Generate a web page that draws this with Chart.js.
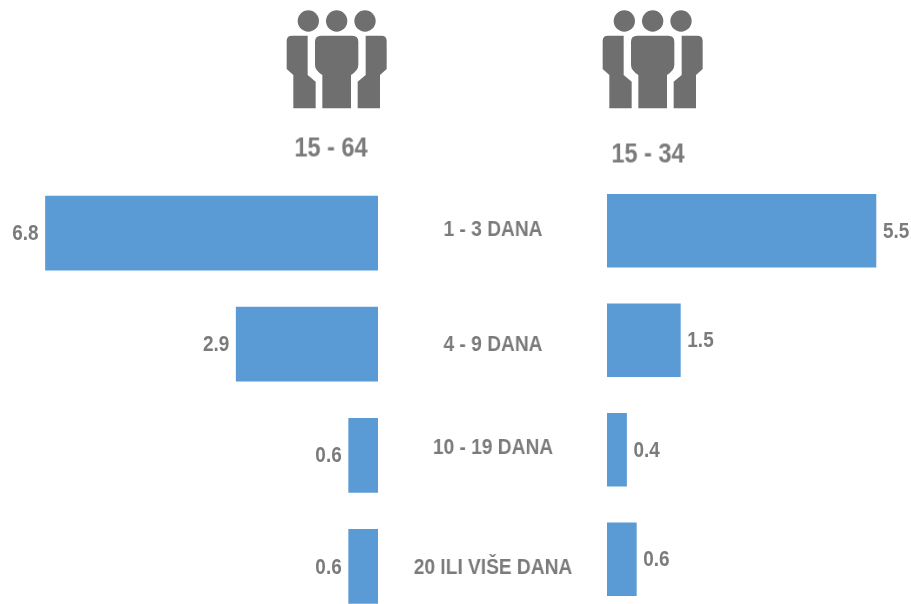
<!DOCTYPE html>
<html>
<head>
<meta charset="utf-8">
<script src="https://cdn.jsdelivr.net/npm/chart.js@4"></script>
<style>
    html, body { margin: 0; background: #fff; }
    #page { position: relative; width: 911px; height: 604px; overflow: hidden; font-family: "Liberation Sans", Arial, sans-serif; color: #7b7b7b; }
    #page canvas { position: absolute; }
    .icon { position: absolute; top: 0; width: 130px; height: 170px; }
    .head { position: absolute; font-size: 27px; font-weight: bold; transform: translate(-50%, -50%) scaleX(0.87); white-space: nowrap; will-change: transform; }
    .cat { position: absolute; left: 493px; font-size: 22px; font-weight: bold; transform: translate(-50%, -50%) scaleX(0.87); white-space: nowrap; will-change: transform; }
</style>
</head>
<body>
<div id="page">
    <svg style="display:none">
        <symbol id="people" viewBox="0 0 390 510">
            <g fill="#6f6f6f">
                <circle cx="115" cy="63" r="32"/>
                <circle cx="200" cy="63" r="32"/>
                <circle cx="285" cy="63" r="32"/>
                <path d="M66 107H113V225L137 245V325H70V225L50 207V123Q50 107 66 107Z"/>
                <path d="M334 107H287V225L263 245V325H330V225L350 207V123Q350 107 334 107Z"/>
                <path d="M153 107H247Q265 107 265 125V195Q265 211 243 225V325H157V225Q135 211 135 195V125Q135 107 153 107Z"/>
            </g>
        </symbol>
    </svg>
    <svg class="icon" style="left:270px"><use href="#people"/></svg>
    <svg class="icon" style="left:586px"><use href="#people"/></svg>
    <div class="head" style="left:331px;top:148px">15 - 64</div>
    <div class="head" style="left:648px;top:154px">15 - 34</div>
    <canvas id="left-chart" width="378" height="445" style="left:0;top:177px"></canvas>
    <canvas id="right-chart" width="304" height="438" style="left:607px;top:176px"></canvas>
</div>
<script>
const categories = ['1 - 3 DANA', '4 - 9 DANA', '10 - 19 DANA', '20 ILI VIŠE DANA'];
const categoryY = [229, 344, 447, 567];
const ages1564 = [6.8, 2.9, 0.6, 0.6];
const ages1534 = [5.5, 1.5, 0.4, 0.6];

const BAR_COLOR = '#5b9bd5';
const PX_PER_UNIT = 48.9;
const LABEL_SQUEEZE = 0.86;

// value labels sit just outside the end of each bar, squeezed like the original type
const valueLabels = {
    id: 'valueLabels',
    afterDatasetsDraw(chart) {
        const ctx = chart.ctx;
        const reversed = chart.scales.x.options.reverse;
        ctx.save();
        ctx.font = 'bold 22px "Liberation Sans", Arial, sans-serif';
        ctx.fillStyle = '#7b7b7b';
        ctx.textBaseline = 'middle';
        ctx.textAlign = reversed ? 'right' : 'left';
        chart.getDatasetMeta(0).data.forEach((bar, i) => {
            ctx.save();
            ctx.translate(bar.x + (reversed ? -7 : 7), bar.y + 1);
            ctx.scale(LABEL_SQUEEZE, 1);
            ctx.fillText(chart.data.datasets[0].data[i].toFixed(1), 0, 0);
            ctx.restore();
        });
        ctx.restore();
    }
};

function drawSide(id, values, width, thickness, reversed, padTop) {
    return new Chart(document.getElementById(id), {
        type: 'bar',
        data: {
            labels: categories,
            datasets: [{ data: values, backgroundColor: BAR_COLOR, barThickness: thickness }]
        },
        options: {
            indexAxis: 'y',
            responsive: false,
            animation: false,
            layout: { padding: { top: padTop } },
            plugins: { legend: { display: false }, tooltip: { enabled: false } },
            scales: {
                x: { display: false, min: 0, max: width / PX_PER_UNIT, reverse: reversed },
                y: { display: false }
            }
        },
        plugins: [valueLabels]
    });
}

drawSide('left-chart', ages1564, 378, 74, true, 0.5);
drawSide('right-chart', ages1534, 304, 73, false, 0);

const page = document.getElementById('page');
categories.forEach((name, i) => {
    const label = document.createElement('div');
    label.className = 'cat';
    label.style.top = categoryY[i] + 'px';
    label.textContent = name;
    page.appendChild(label);
});
</script>
</body>
</html>
